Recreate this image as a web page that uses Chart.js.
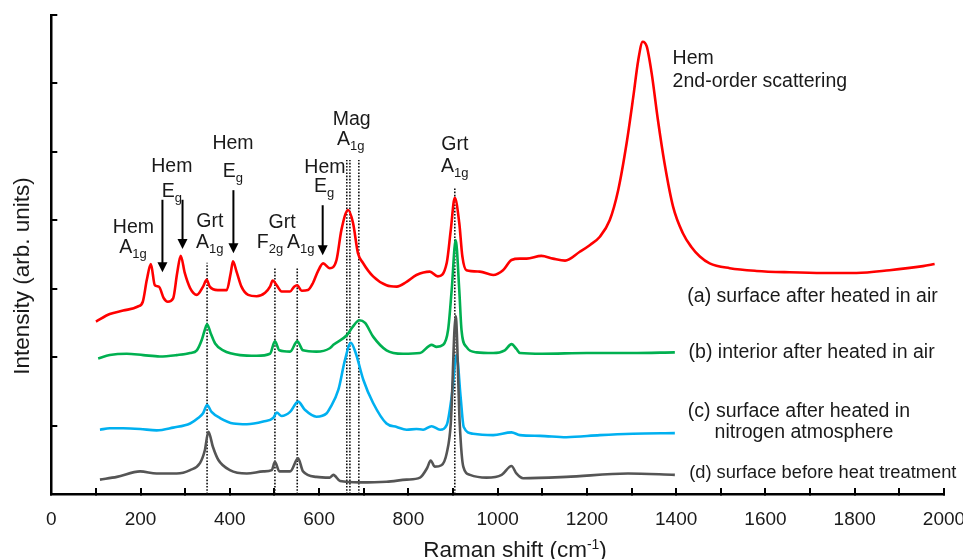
<!DOCTYPE html>
<html><head><meta charset="utf-8">
<script src="https://cdn.jsdelivr.net/npm/chart.js@4"></script>
<style>html,body{margin:0;padding:0;background:#fff;}#wrap{width:963px;height:559px;}</style>
</head><body><div id="wrap"><canvas id="c" width="963" height="559"></canvas></div>
<script>
// ---- data (Raman shift in cm-1, intensity in arb. units incl. vertical offset) ----
const xTicksMajor = [0, 200, 400, 600, 800, 1000, 1200, 1400, 1600, 1800, 2000];

const redX = [100,131,161,194,205,214,223,232,241,252,261,273,282,290,299,311,326,340,348,355,373,393,402,407,415,426,441,460,479,490,496,505,516,535,544,551,561,575,586,597,609,624,639,650,665,676,687,698,721,751,774,796,818,848,866,886,895,904,914,921,930,960,990,1012,1031,1050,1065,1098,1124,1151,1184,1207,1229,1251,1270,1289,1304,1315,1325,1334,1345,1359,1374,1393,1415,1434,1453,1475,1520,1580,1654,1729,1804,1878,1953,1979];
const redY = [2.52,2.63,2.68,2.74,2.81,3.13,3.36,3.05,3.03,2.86,2.81,2.86,3.23,3.48,3.23,3.01,2.91,3.03,3.13,3.03,2.98,2.98,3.23,3.40,3.25,3.03,2.91,2.89,2.94,3.03,3.12,3.05,2.96,2.96,3.03,3.05,2.97,2.98,3.08,3.25,3.37,3.30,3.42,3.86,4.15,3.96,3.52,3.38,3.18,3.05,3.03,3.10,3.20,3.25,3.18,3.38,3.86,4.33,3.96,3.47,3.27,3.25,3.20,3.27,3.42,3.44,3.44,3.48,3.44,3.41,3.54,3.64,3.76,4.00,4.44,5.13,5.81,6.34,6.61,6.54,6.15,5.47,4.83,4.20,3.81,3.61,3.47,3.37,3.30,3.26,3.24,3.23,3.23,3.27,3.33,3.36];

const greenX = [105,131,169,206,243,281,311,326,337,344,349,357,367,385,423,460,490,501,511,535,551,564,594,624,632,662,676,690,703,721,751,788,826,852,863,878,889,897,906,914,919,930,953,990,1016,1031,1042,1050,1100,1200,1300,1397];
const greenY = [1.98,2.03,2.05,2.03,2.01,2.03,2.06,2.10,2.25,2.40,2.48,2.35,2.20,2.10,2.03,2.02,2.05,2.23,2.10,2.08,2.23,2.10,2.08,2.13,2.18,2.32,2.45,2.54,2.50,2.30,2.10,2.05,2.06,2.18,2.15,2.18,2.40,2.98,3.71,2.98,2.40,2.15,2.07,2.06,2.10,2.19,2.12,2.06,2.05,2.06,2.06,2.07];

const blueX = [109,131,161,199,236,273,311,329,340,349,359,378,408,438,475,497,505,516,535,553,568,594,617,624,643,658,671,682,699,721,751,774,796,818,833,852,871,886,897,908,917,924,945,990,1031,1050,1095,1154,1229,1303,1397];
const blueY = [0.94,0.96,0.96,0.95,0.93,0.97,1.03,1.11,1.18,1.30,1.20,1.11,1.03,1.02,1.06,1.11,1.19,1.14,1.20,1.35,1.23,1.13,1.18,1.25,1.52,1.96,2.21,2.06,1.67,1.33,1.03,0.98,0.94,0.95,0.94,0.99,0.94,1.01,1.42,2.03,1.42,0.98,0.88,0.86,0.90,0.86,0.85,0.83,0.86,0.88,0.89];

const grayX = [109,147,199,236,281,311,333,344,352,362,374,400,438,475,494,501,511,535,553,564,594,624,632,647,691,751,796,826,842,850,859,874,886,895,906,915,923,938,975,1009,1031,1042,1057,1154,1292,1397];
const grayY = [0.21,0.25,0.33,0.30,0.30,0.35,0.45,0.64,0.91,0.69,0.50,0.35,0.30,0.33,0.35,0.47,0.33,0.33,0.52,0.33,0.25,0.24,0.28,0.19,0.17,0.18,0.21,0.24,0.38,0.49,0.40,0.42,0.60,1.03,2.60,1.03,0.40,0.28,0.24,0.28,0.41,0.30,0.23,0.25,0.30,0.28];

// reference (dotted) lines: peak positions and their upper ends
const refLineX   = [349, 501, 551, 662, 669, 689, 904];
const refLineTop = [3.38, 3.30, 3.30, 4.88, 4.88, 4.88, 4.49];

// arrows: peak position, arrow start and tip
const arrowX    = [249, 294, 408, 608];
const arrowTop  = [4.30, 4.30, 4.44, 4.22];
const arrowTip  = [3.24, 3.58, 3.52, 3.49];

// peak annotation text (main text + subscript)
const peakText = ['Hem','A|1g','Hem','E|g','Grt','A|1g','Hem','E|g','Grt','F|2g','A|1g','Hem','E|g','Mag','A|1g','Grt','A|1g'];
const peakTextX = [184,183,270,270,355,355,407,407,517,490,559,613,611,673,671,904,904];
const peakTextY = [3.81,3.52,4.71,4.34,3.90,3.60,5.04,4.63,3.89,3.60,3.60,4.69,4.41,5.39,5.10,5.03,4.71];

const noteText = ['Hem', '2nd-order scattering'];
const noteX = [1392, 1392];
const noteY = [6.28, 5.95];

const seriesText = ['(a) surface after heated in air', '(b) interior after heated in air', '(c) surface after heated in', 'nitrogen atmosphere', '(d) surface before heat treatment'];
const seriesTextX = [1986, 1979, 1426, 1486, 1429];
const seriesTextY = [2.81, 1.99, 1.13, 0.82, 0.23];

const xTitle = ['Raman shift (cm', '-1', ')'];
const yTitle = 'Intensity (arb. units)';

// ---- build ----
const FONT = "'Liberation Sans', Arial, sans-serif";
const TXT = '#1a1a1a';
function pts(xs, ys){ return xs.map((x,i)=>({x:x, y:ys[i]})); }
function spec(label, xs, ys, color, order){
  return {label, data: pts(xs, ys), borderColor: color, borderWidth: 2.6, pointRadius: 0,
    cubicInterpolationMode: 'monotone', fill: false, order};
}
const datasets = [
  spec('(a)', redX, redY, '#ff0000', 4),
  spec('(b)', greenX, greenY, '#00b050', 3),
  spec('(c)', blueX, blueY, '#00b0f0', 2),
  spec('(d)', grayX, grayY, '#555555', 1)
];
refLineX.forEach((x,i)=>{
  datasets.push({label:'ref'+i, data:[{x:x,y:0},{x:x,y:refLineTop[i]}], borderColor:'#111', borderWidth:1.6,
    borderDash:[1.6,1.6], pointRadius:0, fill:false, order:10});
});

const annot = {
  id: 'annot',
  afterDatasetsDraw(chart){
    const ctx = chart.ctx, xs = chart.scales.x, ys = chart.scales.y;
    ctx.save();
    // arrows
    ctx.fillStyle = '#000'; ctx.strokeStyle = '#000'; ctx.lineWidth = 2;
    arrowX.forEach((v,i)=>{
      const px = xs.getPixelForValue(v), pt = ys.getPixelForValue(arrowTop[i]), pb = ys.getPixelForValue(arrowTip[i]);
      const hh = 10, hw = 5;
      ctx.beginPath(); ctx.moveTo(px, pt); ctx.lineTo(px, pb - hh + 1); ctx.stroke();
      ctx.beginPath(); ctx.moveTo(px - hw, pb - hh); ctx.lineTo(px + hw, pb - hh); ctx.lineTo(px, pb); ctx.closePath(); ctx.fill();
    });
    // peak labels
    ctx.fillStyle = TXT; ctx.textBaseline = 'alphabetic';
    const main = '19.5px ' + FONT, sub = '13px ' + FONT;
    peakText.forEach((t,i)=>{
      const [m, s] = t.split('|');
      ctx.font = main; const wm = ctx.measureText(m).width;
      let ws = 0; if (s){ ctx.font = sub; ws = ctx.measureText(s).width; }
      const cx = xs.getPixelForValue(peakTextX[i]), by = ys.getPixelForValue(peakTextY[i]);
      const x0 = cx - (wm + ws)/2;
      ctx.textAlign = 'left';
      ctx.font = main; ctx.fillText(m, x0, by);
      if (s){ ctx.font = sub; ctx.fillText(s, x0 + wm, by + 5); }
    });
    // note
    ctx.font = main; ctx.textAlign = 'left';
    noteText.forEach((t,i)=> ctx.fillText(t, xs.getPixelForValue(noteX[i]), ys.getPixelForValue(noteY[i])));
    // series labels
    seriesText.forEach((t,i)=>{
      ctx.font = (i === 4 ? '18.3px ' : '19.5px ') + FONT;
      ctx.textAlign = i < 2 ? 'right' : 'left';
      ctx.fillText(t, xs.getPixelForValue(seriesTextX[i]), ys.getPixelForValue(seriesTextY[i]));
    });
    // x title
    const tf = '22.5px ' + FONT, tsf = '14px ' + FONT;
    ctx.font = tf; const w0 = ctx.measureText(xTitle[0]).width, w2 = ctx.measureText(xTitle[2]).width;
    ctx.font = tsf; const w1 = ctx.measureText(xTitle[1]).width;
    let x0 = 515 - (w0 + w1 + w2)/2; const by = 557;
    ctx.textAlign = 'left';
    ctx.font = tf; ctx.fillText(xTitle[0], x0, by);
    ctx.font = tsf; ctx.fillText(xTitle[1], x0 + w0, by - 8);
    ctx.font = tf; ctx.fillText(xTitle[2], x0 + w0 + w1, by);
    // y title
    ctx.translate(28.5, 276); ctx.rotate(-Math.PI/2);
    ctx.font = tf; ctx.textAlign = 'center'; ctx.fillText(yTitle, 0, 0);
    ctx.restore();
  }
};

new Chart(document.getElementById('c'), {
  type: 'line',
  data: { datasets },
  options: {
    responsive: false, animation: false, devicePixelRatio: 1,
    layout: { padding: { top: 15, right: 19, left: 0, bottom: 0 } },
    plugins: { legend: { display: false }, tooltip: { enabled: false }, title: { display: false } },
    elements: { line: { tension: 0 } },
    scales: {
      x: {
        type: 'linear', min: 0, max: 2000, position: 'bottom',
        afterFit(s){ s.height = 65; s.paddingLeft = 0; s.paddingRight = 0; },
        afterBuildTicks(s){ s.ticks = []; for (let v = 0; v <= 2000; v += 100) s.ticks.push({value: v}); },
        ticks: { autoSkip: false, maxRotation: 0, color: TXT, padding: 20,
          font: { family: FONT, size: 19 },
          callback: (v) => xTicksMajor.includes(v) ? String(v) : '' },
        grid: { display: true, drawOnChartArea: false, drawTicks: true, tickLength: -6, color: '#000', lineWidth: 2 },
        border: { display: true, color: '#000', width: 2.5 }
      },
      y: {
        type: 'linear', min: 0, max: 7,
        afterFit(s){ s.width = 51.3; s.paddingTop = 0; s.paddingBottom = 0; },
        ticks: { stepSize: 1, display: false },
        grid: { display: true, drawOnChartArea: false, drawTicks: true, tickLength: -6, color: '#000', lineWidth: 2 },
        border: { display: true, color: '#000', width: 2.5 }
      }
    }
  },
  plugins: [annot]
});
</script></body></html>
